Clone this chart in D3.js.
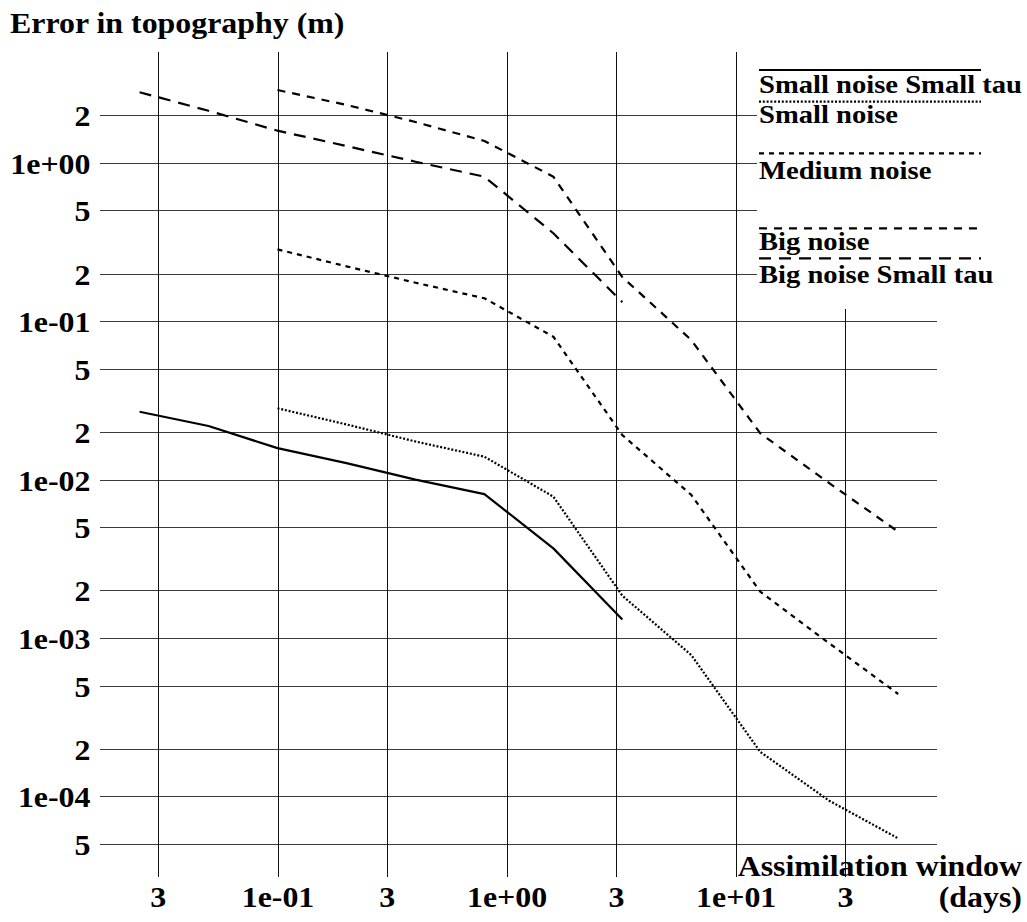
<!DOCTYPE html>
<html>
<head>
<meta charset="utf-8">
<script src="https://cdn.jsdelivr.net/npm/d3@7"></script>
<style>
  body { margin: 0; background: #fff; }
  svg { display: block; }
  text { font-family: "Liberation Serif", "Times New Roman", serif; font-weight: bold; fill: #000; }
</style>
</head>
<body>
<svg id="chart" width="1027" height="922"></svg>
<script>
// Assimilation window lengths (days)
const windowsShort = [0.025, 0.05, 0.1, 0.2, 0.4, 0.8, 1.6, 3.2];
const windowsLong = [0.1, 0.2, 0.4, 0.8, 1.6, 3.2, 6.4, 12.8, 25.6, 51.2];

// Error in topography (m) for each experiment
const smallNoiseSmallTau = [0.0268, 0.0218, 0.0158, 0.0127, 0.0100, 0.0081, 0.00368, 0.00131];
const smallNoise = [0.0282, 0.0223, 0.0174, 0.01395, 0.0078, 0.00185, 0.00078, 0.000191, 0.0000939, 0.0000543];
const mediumNoise = [0.284, 0.222, 0.175, 0.1395, 0.0798, 0.0191, 0.0080, 0.00196, 0.000926, 0.000443];
const bigNoise = [2.88, 2.32, 1.81, 1.373, 0.817, 0.190, 0.076, 0.0196, 0.0095, 0.00469];
const bigNoiseSmallTau = [2.79, 2.13, 1.595, 1.276, 1.016, 0.817, 0.359, 0.132];

const seriesNames = ["Small noise Small tau", "Small noise", "Medium noise", "Big noise", "Big noise Small tau"];

// Axis ticks
const xTickValues = [0.03, 0.1, 0.3, 1, 3, 10, 30];
const xTickLabels = ["3", "1e-01", "3", "1e+00", "3", "1e+01", "3"];
const yTickValues = [2, 1, 0.5, 0.2, 0.1, 0.05, 0.02, 0.01, 0.005, 0.002, 0.001, 0.0005, 0.0002, 0.0001, 0.00005];
const yTickLabels = ["2", "1e+00", "5", "2", "1e-01", "5", "2", "1e-02", "5", "2", "1e-03", "5", "2", "1e-04", "5"];

// ---- layout ----
const plot = { left: 100, right: 937, top: 52, bottom: 877 };
const stretch = "scale(1.1,1)";

const svg = d3.select("#chart");

const x = d3.scaleLog().domain([0.01, 100]).range([48.4, 964.8]);
const y = d3.scaleLog().domain([1, 1e-4]).range([162.8, 796.4]);

// Horizontal grid + y labels
const yAxis = d3.axisLeft(y)
  .tickValues(yTickValues)
  .tickFormat((d, i) => yTickLabels[i])
  .tickSizeInner(-(plot.right - plot.left))
  .tickSizeOuter(0)
  .tickPadding(9);

const gy = svg.append("g").attr("transform", `translate(${plot.left},0)`).call(yAxis);
gy.select(".domain").remove();
gy.selectAll(".tick line").attr("stroke", "#3a3a3a").attr("stroke-width", 1).attr("shape-rendering", "crispEdges");
gy.selectAll(".tick text")
  .attr("x", null).attr("dy", null)
  .attr("text-anchor", "end")
  .attr("font-size", 29)
  .attr("font-family", null)
  .attr("transform", `translate(-9.5,10.5) ${stretch}`);

// Vertical grid + x labels
const xAxis = d3.axisBottom(x)
  .tickValues(xTickValues)
  .tickFormat((d, i) => xTickLabels[i])
  .tickSizeInner(-(plot.bottom - plot.top))
  .tickSizeOuter(0)
  .tickPadding(0);

const gx = svg.append("g").attr("transform", `translate(0,${plot.bottom})`).call(xAxis);
gx.select(".domain").remove();
gx.selectAll(".tick line").attr("stroke", "#111").attr("stroke-width", 1).attr("shape-rendering", "crispEdges");
gx.selectAll(".tick text")
  .attr("y", null).attr("dy", null)
  .attr("text-anchor", "middle")
  .attr("font-size", 29)
  .attr("font-family", null)
  .attr("transform", `translate(0,30) ${stretch}`);

// Series
const series = [
  { name: seriesNames[0], xs: windowsShort, ys: smallNoiseSmallTau, dash: null },
  { name: seriesNames[1], xs: windowsLong, ys: smallNoise, dash: "2,1.8" },
  { name: seriesNames[2], xs: windowsLong, ys: mediumNoise, dash: "5,5" },
  { name: seriesNames[3], xs: windowsLong, ys: bigNoise, dash: "8,7" },
  { name: seriesNames[4], xs: windowsShort, ys: bigNoiseSmallTau, dash: "12,8" }
];

const line = d3.line().x(d => x(d[0])).y(d => y(d[1]));

svg.append("g").selectAll("path")
  .data(series)
  .join("path")
  .attr("d", s => line(s.xs.map((v, i) => [v, s.ys[i]])))
  .attr("fill", "none")
  .attr("stroke", "#000")
  .attr("stroke-width", 2.2)
  .attr("stroke-linejoin", "round")
  .attr("stroke-dasharray", s => s.dash);

// Legend panel (masks the grid behind it)
svg.append("rect")
  .attr("x", 757).attr("y", 0).attr("width", 270).attr("height", 309)
  .attr("fill", "#fff");

const legendLineY = [70, 101.7, 153.3, 228.3, 258.3];
const legendTextY = [92.7, 123.3, 179, 250, 283];
const legendX0 = 759, legendX1 = 981;

const lg = svg.append("g");
lg.selectAll("line")
  .data(series)
  .join("line")
  .attr("x1", legendX0).attr("x2", legendX1)
  .attr("y1", (d, i) => legendLineY[i]).attr("y2", (d, i) => legendLineY[i])
  .attr("stroke", "#000")
  .attr("stroke-width", 2.2)
  .attr("stroke-dasharray", s => s.dash);

lg.selectAll("text")
  .data(series)
  .join("text")
  .attr("transform", (d, i) => `translate(${legendX0},${legendTextY[i]}) ${stretch}`)
  .attr("font-size", 26)
  .text(s => s.name);

// Titles
svg.append("text")
  .attr("transform", `translate(10,33) ${stretch}`)
  .attr("font-size", 29)
  .text("Error in topography (m)");

svg.append("text")
  .attr("transform", `translate(1022,876) ${stretch}`)
  .attr("text-anchor", "end")
  .attr("font-size", 29)
  .text("Assimilation window");

svg.append("text")
  .attr("transform", `translate(1022,907) ${stretch}`)
  .attr("text-anchor", "end")
  .attr("font-size", 29)
  .text("(days)");
</script>
</body>
</html>
